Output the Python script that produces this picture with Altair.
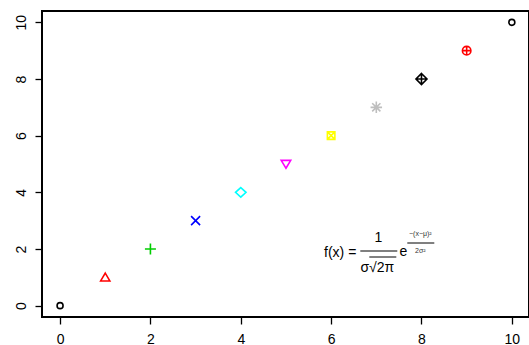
import altair as alt
import pandas as pd

# Points drawn with symbol codes 1..10 (recycled) and palette colours 1..8 (recycled)
xs = [0, 1, 2, 3, 4, 5, 6, 7, 8, 9, 10]
ys = [0, 1, 2, 3, 4, 5, 6, 7, 8, 9, 10]
pch = [1, 2, 3, 4, 5, 6, 7, 8, 9, 10, 1]
col = [1, 2, 3, 4, 5, 6, 7, 8, 1, 2, 1]

# Axis tick labels
x_ticks = [0, 2, 4, 6, 8, 10]
y_ticks = [0, 2, 4, 6, 8, 10]

# Position of the formula annotation in data units
formula_x = 7
formula_y = 2

palette = ["#000000", "#FF0000", "#00CD00", "#0000FF",
           "#00FFFF", "#FF00FF", "#FFFF00", "#BEBEBE"]

# Symbol outlines, in a unit box scaled by the mark size
symbol_paths = [
    "M0.6,0A0.6,0.6,0,1,1,-0.6,0A0.6,0.6,0,1,1,0.6,0Z",                       # circle
    "M0,-0.85L0.92,0.72L-0.92,0.72Z",                                          # triangle up
    "M-1.1,0L1.1,0M0,-1.1L0,1.1",                                              # plus
    "M-0.9,-0.9L0.9,0.9M-0.9,0.9L0.9,-0.9",                                    # cross
    "M0,-0.95L1.05,0L0,0.95L-1.05,0Z",                                         # diamond
    "M0,0.85L0.95,-0.72L-0.95,-0.72Z",                                         # triangle down
    "M-0.75,-0.75L0.75,-0.75L0.75,0.75L-0.75,0.75ZM-0.75,-0.75L0.75,0.75M-0.75,0.75L0.75,-0.75",  # square + cross
    "M-1.15,0L1.15,0M0,-1.15L0,1.15M-0.82,-0.82L0.82,0.82M-0.82,0.82L0.82,-0.82",  # asterisk
    "M0,-1.1L1.1,0L0,1.1L-1.1,0ZM-1.1,0L1.1,0M0,-1.1L0,1.1",                  # diamond + plus
    "M0.85,0A0.85,0.85,0,1,1,-0.85,0A0.85,0.85,0,1,1,0.85,0ZM-0.85,0L0.85,0M0,-0.85L0,0.85",  # circle + plus
]

df = pd.DataFrame({"x": xs, "y": ys, "pch": pch, "col": col})

FONT = "Liberation Sans"
W, H = 487, 306

x_scale = alt.Scale(domain=[-0.4, 10.38], nice=False, zero=False)
y_scale = alt.Scale(domain=[-0.4, 10.4], nice=False, zero=False)

x_axis = alt.Axis(values=x_ticks, title=None, grid=False, domain=False,
                  tickSize=7, tickColor="black", tickWidth=1.3,
                  labelFont=FONT, labelFontSize=14, labelColor="black",
                  labelPadding=8, labelFlush=False)
y_axis = alt.Axis(values=y_ticks, title=None, grid=False, domain=False,
                  tickSize=7, tickColor="black", tickWidth=1.3,
                  labelFont=FONT, labelFontSize=14, labelColor="black",
                  labelAngle=270, labelAlign="center", labelBaseline="bottom",
                  labelPadding=7, labelFlush=False)

# Plot frame
frame = alt.Chart().mark_rect(filled=False, stroke="black", strokeWidth=2).encode(
    x=alt.value(0), x2=alt.value(W), y=alt.value(0), y2=alt.value(H)
)

points = alt.Chart(df).mark_point(filled=False, size=100, strokeWidth=1.6, opacity=1).encode(
    x=alt.X("x:Q", scale=x_scale, axis=x_axis),
    y=alt.Y("y:Q", scale=y_scale, axis=y_axis),
    shape=alt.Shape("pch:O", scale=alt.Scale(domain=list(range(1, 11)), range=symbol_paths), legend=None),
    color=alt.Color("col:O", scale=alt.Scale(domain=list(range(1, 9)), range=palette), legend=None),
)

anchor = dict(x=alt.datum(formula_x), y=alt.datum(formula_y))


def label(text, size, dx, dy, align="center", color="black"):
    return alt.Chart().mark_text(
        text=text, font=FONT, fontSize=size, color=color,
        align=align, baseline="middle", dx=dx, dy=dy,
    ).encode(**anchor)


def bar(x0, x1, y_off, width=1.2):
    return alt.Chart().mark_rule(
        color="black", strokeWidth=width,
        xOffset=x0, x2Offset=x1, yOffset=y_off, y2Offset=y_off,
    ).encode(x=alt.datum(formula_x), x2=alt.datum(formula_x),
             y=alt.datum(formula_y), y2=alt.datum(formula_y))


formula = [
    label("f(x) =", 14, -20, 4, align="right"),
    label("1", 14, 2, -11),
    bar(-16, 21, 2),
    label("σ√2π", 14, 1, 19),
    bar(-7, 20, 8, width=1),
    label("e", 14, 27, 3),
    label("−(x−μ)²", 7, 44, -15, color="#333333"),
    bar(31, 58, -6, width=1),
    label("2σ²", 7, 44, 2, color="#333333"),
]

chart = alt.layer(points, frame, *formula).properties(
    width=W, height=H,
    background="white",
    padding={"left": 42, "top": 11, "right": 0, "bottom": 28},
    autosize=alt.AutoSizeParams(type="none"),
).configure_view(stroke="black", strokeWidth=2)

chart.save("out.html", embed_options={"renderer": "svg", "actions": False})
